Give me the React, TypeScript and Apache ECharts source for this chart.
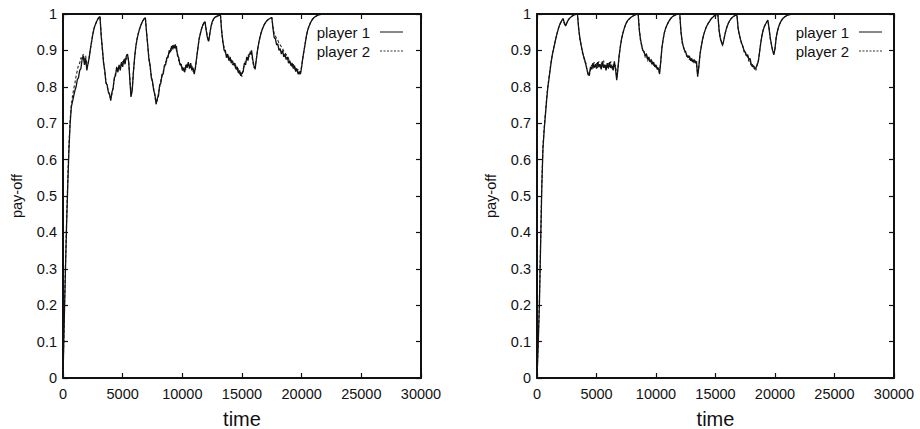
import React, { useEffect, useRef } from "react";
import * as echarts from "echarts";

// sampling step of the stored series (time units)
const STEP = 100;
const X_MAX = 30000;
const X_TICK = 5000;
const Y_TICK = 0.1;
const TAIL_LEFT: [number, number][] = [[30000, 1]];
const TAIL_RIGHT: [number, number][] = [[30000, 1]];
const SERIES_NAMES = ["player 1", "player 2"];
const X_NAME = "time";
const Y_NAME = "pay-off";

// left panel, player 1 (t = 0 .. 22000, step 100)
const leftP1 = [
  0, 0.15, 0.29, 0.42, 0.53, 0.63, 0.7, 0.745, 0.76, 0.775,
  0.79, 0.8, 0.82, 0.825, 0.845, 0.85, 0.875, 0.885, 0.86, 0.878,
  0.845, 0.865, 0.88, 0.905, 0.925, 0.945, 0.96, 0.97, 0.978, 0.985,
  0.99, 0.993, 0.94, 0.905, 0.865, 0.845, 0.81, 0.805, 0.785, 0.78,
  0.762, 0.785, 0.795, 0.825, 0.83, 0.855, 0.84, 0.86, 0.845, 0.868,
  0.855, 0.875, 0.862, 0.884, 0.89, 0.87, 0.82, 0.772, 0.79, 0.84,
  0.88, 0.91, 0.93, 0.945, 0.957, 0.967, 0.975, 0.982, 0.987, 0.99,
  0.95, 0.915, 0.875, 0.86, 0.825, 0.815, 0.79, 0.78, 0.752, 0.768,
  0.775, 0.805, 0.81, 0.835, 0.835, 0.86, 0.86, 0.88, 0.88, 0.9,
  0.895, 0.912, 0.903, 0.915, 0.905, 0.912, 0.885, 0.88, 0.86, 0.862,
  0.845, 0.852, 0.84, 0.86, 0.852, 0.868, 0.85, 0.865, 0.845, 0.852,
  0.835, 0.855, 0.88, 0.905, 0.93, 0.945, 0.958, 0.968, 0.975, 0.979,
  0.955, 0.935, 0.925, 0.945, 0.965, 0.978, 0.985, 0.99, 0.992, 0.994,
  0.995, 0.996, 0.996, 0.95, 0.925, 0.9, 0.9, 0.88, 0.89, 0.872,
  0.882, 0.865, 0.872, 0.86, 0.865, 0.848, 0.855, 0.838, 0.845, 0.83,
  0.838, 0.842, 0.865, 0.86, 0.882, 0.872, 0.89, 0.89, 0.9, 0.875,
  0.858, 0.848, 0.875, 0.9, 0.92, 0.935, 0.948, 0.958, 0.966, 0.973,
  0.978, 0.982, 0.985, 0.987, 0.989, 0.99, 0.96, 0.935, 0.932, 0.915,
  0.918, 0.9, 0.905, 0.89, 0.9, 0.882, 0.89, 0.875, 0.882, 0.865,
  0.872, 0.858, 0.865, 0.85, 0.858, 0.842, 0.85, 0.835, 0.842, 0.835,
  0.855, 0.88, 0.9, 0.92, 0.94, 0.955, 0.965, 0.973, 0.98, 0.985,
  0.989, 0.992, 0.994, 0.996, 0.997, 0.998, 0.999, 0.999, 1, 1,
  1,
];

// left panel, player 2
const leftP2 = [
  0, 0.16, 0.3, 0.43, 0.55, 0.64, 0.71, 0.75, 0.775, 0.795,
  0.81, 0.83, 0.845, 0.86, 0.865, 0.88, 0.878, 0.89, 0.87, 0.885,
  0.855, 0.86, 0.885, 0.905, 0.925, 0.945, 0.96, 0.97, 0.978, 0.985,
  0.99, 0.993, 0.945, 0.9, 0.87, 0.84, 0.815, 0.8, 0.79, 0.775,
  0.768, 0.78, 0.8, 0.82, 0.838, 0.848, 0.852, 0.85, 0.862, 0.858,
  0.87, 0.865, 0.88, 0.875, 0.89, 0.872, 0.825, 0.775, 0.795, 0.84,
  0.88, 0.91, 0.93, 0.945, 0.957, 0.967, 0.975, 0.982, 0.987, 0.99,
  0.952, 0.91, 0.88, 0.852, 0.832, 0.81, 0.795, 0.772, 0.758, 0.762,
  0.782, 0.8, 0.818, 0.828, 0.842, 0.852, 0.868, 0.872, 0.888, 0.892,
  0.905, 0.9, 0.915, 0.908, 0.918, 0.9, 0.892, 0.872, 0.868, 0.855,
  0.855, 0.842, 0.855, 0.848, 0.865, 0.858, 0.862, 0.852, 0.858, 0.842,
  0.84, 0.85, 0.88, 0.905, 0.93, 0.945, 0.958, 0.968, 0.975, 0.979,
  0.958, 0.938, 0.925, 0.945, 0.965, 0.978, 0.985, 0.99, 0.992, 0.994,
  0.995, 0.996, 0.996, 0.955, 0.918, 0.91, 0.89, 0.888, 0.878, 0.885,
  0.87, 0.875, 0.86, 0.868, 0.852, 0.86, 0.842, 0.85, 0.832, 0.84,
  0.828, 0.85, 0.858, 0.872, 0.875, 0.888, 0.882, 0.898, 0.892, 0.87,
  0.852, 0.855, 0.875, 0.9, 0.92, 0.935, 0.948, 0.958, 0.966, 0.973,
  0.978, 0.982, 0.985, 0.987, 0.989, 0.99, 0.965, 0.945, 0.94, 0.932,
  0.928, 0.92, 0.915, 0.91, 0.905, 0.898, 0.895, 0.888, 0.885, 0.878,
  0.865, 0.868, 0.855, 0.862, 0.848, 0.855, 0.84, 0.848, 0.832, 0.84,
  0.858, 0.88, 0.9, 0.92, 0.94, 0.955, 0.965, 0.973, 0.98, 0.985,
  0.989, 0.992, 0.994, 0.996, 0.997, 0.998, 0.999, 0.999, 1, 1,
  1,
];

// right panel, player 1
const rightP1 = [
  0, 0.09, 0.2, 0.36, 0.52, 0.63, 0.68, 0.72, 0.76, 0.795,
  0.82, 0.845, 0.87, 0.89, 0.905, 0.92, 0.935, 0.948, 0.96, 0.97,
  0.977, 0.983, 0.987, 0.975, 0.967, 0.975, 0.982, 0.987, 0.99, 0.993,
  0.995, 0.997, 0.998, 0.999, 1, 0.96, 0.935, 0.915, 0.9, 0.885,
  0.875, 0.862, 0.848, 0.832, 0.835, 0.855, 0.848, 0.865, 0.852, 0.862,
  0.85, 0.868, 0.855, 0.862, 0.848, 0.87, 0.852, 0.86, 0.845, 0.865,
  0.85, 0.868, 0.852, 0.858, 0.845, 0.87, 0.848, 0.818, 0.85, 0.885,
  0.91, 0.93, 0.945, 0.957, 0.967, 0.975, 0.981, 0.985, 0.988, 0.991,
  0.993, 0.995, 0.997, 0.998, 0.999, 1, 0.955, 0.93, 0.912, 0.9,
  0.895, 0.885, 0.89, 0.875, 0.882, 0.868, 0.875, 0.862, 0.868, 0.855,
  0.86, 0.848, 0.852, 0.835, 0.87, 0.908, 0.93, 0.948, 0.96, 0.968,
  0.975, 0.981, 0.986, 0.99, 0.993, 0.995, 0.997, 0.998, 0.999, 1,
  1, 0.95, 0.925, 0.91, 0.9, 0.895, 0.885, 0.88, 0.885, 0.872,
  0.878, 0.868, 0.875, 0.865, 0.87, 0.828, 0.855, 0.89, 0.91, 0.928,
  0.942, 0.953, 0.962, 0.969, 0.975, 0.98, 0.985, 0.989, 0.992, 0.995,
  0.997, 0.998, 0.999, 0.955, 0.935, 0.922, 0.915, 0.928, 0.945, 0.958,
  0.968, 0.976, 0.982, 0.987, 0.99, 0.993, 0.995, 0.997, 0.998, 0.96,
  0.945, 0.93, 0.92, 0.91, 0.9, 0.895, 0.885, 0.888, 0.875, 0.878,
  0.862, 0.855, 0.858, 0.848, 0.852, 0.86, 0.87, 0.895, 0.92, 0.94,
  0.955, 0.965, 0.972, 0.978, 0.983, 0.96, 0.935, 0.915, 0.9, 0.888,
  0.905, 0.935, 0.952, 0.964, 0.973, 0.98, 0.985, 0.989, 0.992, 0.994,
  0.996, 0.997, 0.998, 0.999, 0.999, 1, 1, 1, 1, 1,
  1,
];

// right panel, player 2
const rightP2 = [
  0, 0.1, 0.21, 0.37, 0.53, 0.635, 0.685, 0.725, 0.765, 0.8,
  0.825, 0.85, 0.872, 0.892, 0.907, 0.922, 0.936, 0.949, 0.96, 0.97,
  0.977, 0.983, 0.987, 0.973, 0.968, 0.975, 0.982, 0.987, 0.99, 0.993,
  0.995, 0.997, 0.998, 0.999, 1, 0.962, 0.93, 0.918, 0.895, 0.888,
  0.87, 0.865, 0.845, 0.838, 0.83, 0.848, 0.86, 0.85, 0.868, 0.855,
  0.865, 0.852, 0.87, 0.85, 0.866, 0.855, 0.872, 0.85, 0.862, 0.852,
  0.865, 0.855, 0.87, 0.848, 0.862, 0.852, 0.86, 0.825, 0.85, 0.885,
  0.91, 0.93, 0.945, 0.957, 0.967, 0.975, 0.981, 0.985, 0.988, 0.991,
  0.993, 0.995, 0.997, 0.998, 0.999, 1, 0.958, 0.926, 0.915, 0.895,
  0.898, 0.88, 0.892, 0.87, 0.878, 0.872, 0.862, 0.87, 0.858, 0.862,
  0.852, 0.855, 0.842, 0.84, 0.87, 0.908, 0.93, 0.948, 0.96, 0.968,
  0.975, 0.981, 0.986, 0.99, 0.993, 0.995, 0.997, 0.998, 0.999, 1,
  1, 0.952, 0.92, 0.912, 0.895, 0.898, 0.88, 0.886, 0.875, 0.88,
  0.87, 0.875, 0.865, 0.872, 0.862, 0.835, 0.855, 0.89, 0.91, 0.928,
  0.942, 0.953, 0.962, 0.969, 0.975, 0.98, 0.985, 0.989, 0.992, 0.995,
  0.997, 0.998, 0.999, 0.958, 0.93, 0.925, 0.912, 0.93, 0.945, 0.958,
  0.968, 0.976, 0.982, 0.987, 0.99, 0.993, 0.995, 0.997, 0.998, 0.962,
  0.94, 0.932, 0.915, 0.912, 0.895, 0.898, 0.882, 0.885, 0.87, 0.872,
  0.858, 0.862, 0.85, 0.855, 0.845, 0.862, 0.872, 0.895, 0.92, 0.94,
  0.955, 0.965, 0.972, 0.978, 0.983, 0.962, 0.932, 0.918, 0.898, 0.892,
  0.905, 0.935, 0.952, 0.964, 0.973, 0.98, 0.985, 0.989, 0.992, 0.994,
  0.996, 0.997, 0.998, 0.999, 0.999, 1, 1, 1, 1, 1,
  1,
];

const FONT = "'Liberation Sans', Arial, Helvetica, sans-serif";
const INK = "#111";

function toPairs(vals: number[], tail: [number, number][]) {
  const pts: [number, number][] = vals.map((v, i) => [i * STEP, v]);
  return pts.concat(tail);
}

const panels = [
  { left: 63, width: 358, keyEnd: 403, p1: leftP1, p2: leftP2, tail: TAIL_LEFT },
  { left: 537, width: 357, keyEnd: 882, p1: rightP1, p2: rightP2, tail: TAIL_RIGHT },
];
const TOP = 14;
const HEIGHT = 364;

export default function App() {
  const ref = useRef<HTMLDivElement>(null);
  useEffect(() => {
    if (!ref.current) return;
    const chart = echarts.init(ref.current, undefined, { renderer: "svg" });
    const grids: any[] = [];
    const xAxes: any[] = [];
    const yAxes: any[] = [];
    const series: any[] = [];
    const graphics: any[] = [];
    panels.forEach((p, k) => {
      grids.push({
        left: p.left, top: TOP, width: p.width, height: HEIGHT,
        containLabel: false, outerBoundsMode: "none",
      });
      const axisLine = { show: true, onZero: false, lineStyle: { color: INK, width: 2 } };
      const tick = { show: true, inside: true, length: 5, lineStyle: { color: INK, width: 1.2 } };
      xAxes.push({
        type: "value", gridIndex: k, min: 0, max: X_MAX, interval: X_TICK,
        position: "bottom",
        axisLine, axisTick: tick, splitLine: { show: false },
        axisLabel: {
          color: INK, fontFamily: FONT, fontSize: 14.5, margin: 8,
          formatter: (v: number) => String(v),
        },
        name: X_NAME, nameLocation: "middle", nameGap: 31, nameMoveOverlap: false,
        nameTextStyle: { color: INK, fontFamily: FONT, fontSize: 20 },
      });
      xAxes.push({
        type: "value", gridIndex: k, min: 0, max: X_MAX, interval: X_TICK,
        position: "top",
        axisLine, axisTick: tick, splitLine: { show: false },
        axisLabel: { show: false },
      });
      yAxes.push({
        type: "value", gridIndex: k, min: 0, max: 1, interval: Y_TICK,
        position: "left",
        axisLine, axisTick: tick, splitLine: { show: false },
        axisLabel: { color: INK, fontFamily: FONT, fontSize: 14.5, margin: 6 },
        name: Y_NAME, nameLocation: "middle", nameGap: 39, nameMoveOverlap: false,
        nameTextStyle: { color: INK, fontFamily: FONT, fontSize: 14.5 },
      });
      yAxes.push({
        type: "value", gridIndex: k, min: 0, max: 1, interval: Y_TICK,
        position: "right",
        axisLine, axisTick: tick, splitLine: { show: false },
        axisLabel: { show: false },
      });
      series.push({
        name: SERIES_NAMES[1], type: "line", xAxisIndex: 2 * k, yAxisIndex: 2 * k,
        data: toPairs(p.p2, p.tail), showSymbol: false, symbol: "none",
        lineStyle: { color: "#222", width: 1.1, type: [3, 2] },
      });
      series.push({
        name: SERIES_NAMES[0], type: "line", xAxisIndex: 2 * k, yAxisIndex: 2 * k,
        data: toPairs(p.p1, p.tail), showSymbol: false, symbol: "none",
        lineStyle: { color: INK, width: 1.3 },
      });
      // gnuplot-style key: label then line sample
      const kx = p.keyEnd;
      [0, 1].forEach((j) => {
        const y = TOP + 18 + j * 19;
        graphics.push({
          type: "text", x: kx - 33, y,
          style: { text: SERIES_NAMES[j], font: `15px ${FONT}`, fill: INK, textAlign: "right", textVerticalAlign: "middle" },
        });
        graphics.push({
          type: "line", shape: { x1: kx - 23, y1: y, x2: kx, y2: y },
          style: { stroke: j === 0 ? INK : "#333", lineWidth: 1, lineDash: j === 0 ? null : [2, 1.5] },
        });
      });
    });
    chart.setOption({
      animation: false,
      backgroundColor: "#fff",
      grid: grids,
      xAxis: xAxes,
      yAxis: yAxes,
      series,
      graphic: graphics,
    });
    return () => chart.dispose();
  }, []);
  return <div ref={ref} style={{ position: "fixed", left: 0, top: 0, width: 920, height: 429 }} />;
}
